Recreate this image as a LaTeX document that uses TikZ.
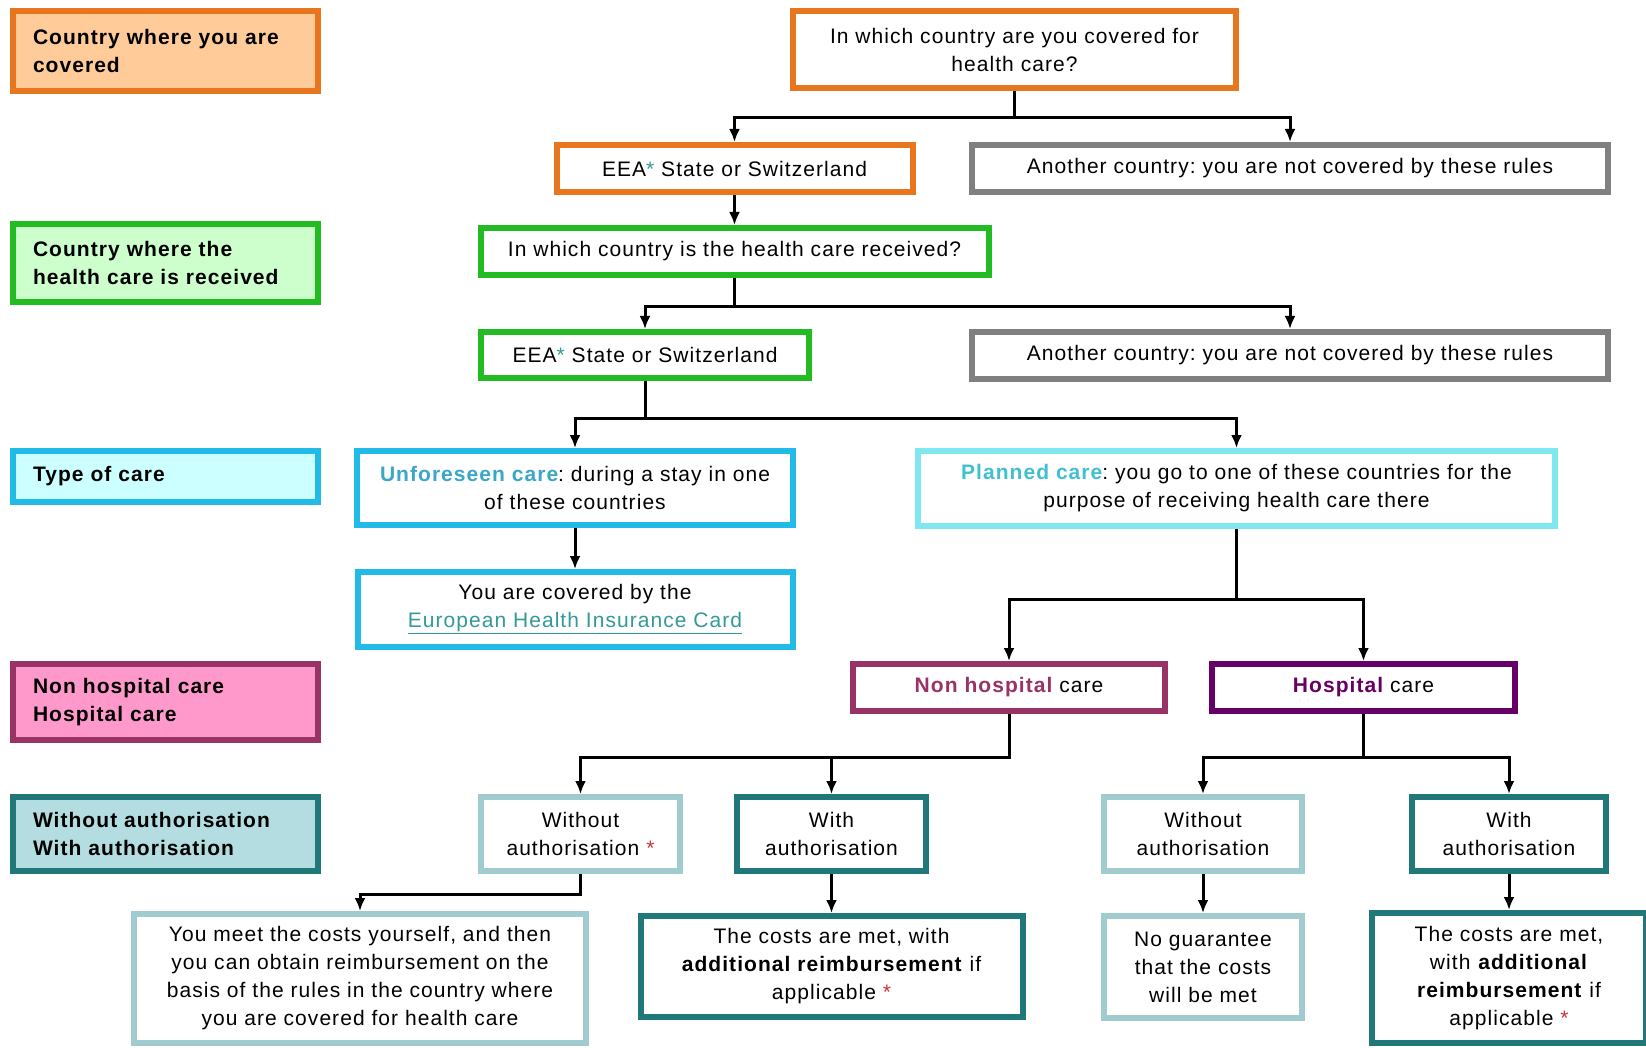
\documentclass[tikz,border=0pt]{standalone}
\usepackage{fontspec}
\setmainfont{Liberation Sans}[LetterSpace=5]
\usepackage{tikz}
\usetikzlibrary{arrows.meta,positioning,calc}
\frenchspacing
\definecolor{cvorange}{HTML}{E8761F}
\definecolor{cvpeach}{HTML}{FFCC99}
\definecolor{cvgreen}{HTML}{22BB22}
\definecolor{cvmint}{HTML}{CCFFCC}
\definecolor{cvcyan}{HTML}{22BBE8}
\definecolor{cvice}{HTML}{CCFFFF}
\definecolor{cvsky}{HTML}{80E6F0}
\definecolor{cvplum}{HTML}{993366}
\definecolor{cvpink}{HTML}{FF99CC}
\definecolor{cvpurple}{HTML}{660066}
\definecolor{cvteal}{HTML}{207878}
\definecolor{cvlteal}{HTML}{A0CCD0}
\definecolor{cvsea}{HTML}{B3DDE0}
\definecolor{cvgrey}{HTML}{808080}
\definecolor{cvlink}{HTML}{339999}
\definecolor{cvstar}{HTML}{CC3333}
\definecolor{cvunf}{HTML}{3AA6C8}
\definecolor{cvplan}{HTML}{40C0D0}

\begin{document}
\begin{tikzpicture}[x=1pt,y=-1pt, font=\fontsize{21}{28}\selectfont,
  box/.style={draw, line width=6pt, fill=white, inner sep=0pt, align=center},
  legend/.style={draw, line width=6pt, inner xsep=20pt, inner ysep=0pt, text width=265pt,
    align=left, minimum width=305pt, font=\fontsize{21}{28}\selectfont\bfseries},
  link/.style={-{Latex[length=13pt,width=11pt]}, line width=3pt}]
  \useasboundingbox (0,0) rectangle (1646,1048);
  % legend column
  \path (165.5,51) node (leg1) [legend, draw=cvorange, fill=cvpeach, minimum height=80pt] {Country where you are\\covered};
  \path (165.5,263) node (leg2) [legend, draw=cvgreen, fill=cvmint, minimum height=78pt] {Country where the\\health care is received};
  \path (165.5,476.5) node (leg3) [legend, draw=cvcyan, fill=cvice, minimum height=51pt] {Type of care};
  \path (165.5,702) node (leg4) [legend, draw=cvplum, fill=cvpink, minimum height=76pt] {Non hospital care\\Hospital care};
  \path (165.5,834) node (leg5) [legend, draw=cvteal, fill=cvsea, minimum height=74pt] {Without authorisation\\With authorisation};
  % country of cover
  \path (1014.5,49.5) node (q1) [box, draw=cvorange, minimum width=443pt, minimum height=77pt] {In which country are you covered for\\health care?};
  \path (734.5,168.5) node (eea1) [box, draw=cvorange, minimum width=356pt, minimum height=47pt] {EEA{\color{cvlink}*} State or Switzerland};
  \path (1290,168.5) node (other1) [box, draw=cvgrey, minimum width=636pt, minimum height=47pt] {Another country: you are not covered by these rules};
  % country of treatment
  \path (734.5,251.5) node (q2) [box, draw=cvgreen, minimum width=508pt, minimum height=47pt] {In which country is the health care received?};
  \path (645,355) node (eea2) [box, draw=cvgreen, minimum width=328pt, minimum height=46pt] {EEA{\color{cvlink}*} State or Switzerland};
  \path (1290,355.5) node (other2) [box, draw=cvgrey, minimum width=636pt, minimum height=47pt] {Another country: you are not covered by these rules};
  % type of care
  \path (575,488) node (unforeseen) [box, draw=cvcyan, minimum width=436pt, minimum height=74pt] {{\bfseries\color{cvunf}Unforeseen care}: during a stay in one\\of these countries};
  \path (1236.5,488.5) node (planned) [box, draw=cvsky, minimum width=637pt, minimum height=75pt] {{\bfseries\color{cvplan}Planned care}: you go to one of these countries for the\\purpose of receiving health care there};
  \path (575,609.5) node (ehic) [box, draw=cvcyan, minimum width=435pt, minimum height=75pt] {You are covered by the\\{\color{cvlink}\underline{European Health Insurance Card}}};
  \path (1009,687.5) node (nonhosp) [box, draw=cvplum, minimum width=312pt, minimum height=47pt] {{\bfseries\color{cvplum}Non hospital} care};
  \path (1363.5,687.5) node (hosp) [box, draw=cvpurple, minimum width=303pt, minimum height=47pt] {{\bfseries\color{cvpurple}Hospital} care};
  % authorisation
  \path (580.5,834) node (nhwithout) [box, draw=cvlteal, minimum width=199pt, minimum height=74pt] {Without\\authorisation {\color{cvstar}*}};
  \path (831.5,834) node (nhwith) [box, draw=cvteal, minimum width=189pt, minimum height=74pt] {With\\authorisation};
  \path (1203,834) node (hwithout) [box, draw=cvlteal, minimum width=198pt, minimum height=74pt] {Without\\authorisation};
  \path (1509,834) node (hwith) [box, draw=cvteal, minimum width=194pt, minimum height=74pt] {With\\authorisation};
  % outcomes
  \path (360,978.5) node (selfpay) [box, draw=cvlteal, minimum width=452pt, minimum height=129pt] {You meet the costs yourself, and then\\you can obtain reimbursement on the\\basis of the rules in the country where\\you are covered for health care};
  \path (831.5,966.5) node (nhmet) [box, draw=cvteal, minimum width=382pt, minimum height=101pt] {The costs are met, with\\\textbf{additional reimbursement} if\\applicable {\color{cvstar}*}};
  \path (1203,967) node (noguar) [box, draw=cvlteal, minimum width=198pt, minimum height=102pt] {No guarantee\\that the costs\\will be met};
  \path (1509,978) node (hmet) [box, draw=cvteal, minimum width=274pt, minimum height=130pt] {The costs are met,\\with \textbf{additional}\\\textbf{reimbursement} if\\applicable {\color{cvstar}*}};
  % connectors
  \draw[link] (q1.south) -- ++(0,27) -| (eea1.north);
  \draw[link] (q1.south) -- ++(0,27) -| (other1.north);
  \draw[link] (eea1.south) -- (q2.north);
  \draw[link] (q2.south) -- ++(0,29) -| (eea2.north);
  \draw[link] (q2.south) -- ++(0,29) -| (other2.north);
  \draw[link] (eea2.south) -- ++(0,37) -| (unforeseen.north);
  \draw[link] (eea2.south) -- ++(0,37) -| (planned.north);
  \draw[link] (unforeseen.south) -- (ehic.north);
  \draw[link] (planned.south) -- ++(0,70) -| (nonhosp.north);
  \draw[link] (planned.south) -- ++(0,70) -| (hosp.north);
  \draw[link] (nonhosp.south) -- ++(0,43) -| (nhwithout.north);
  \draw[link] (nonhosp.south) -- ++(0,43) -| (nhwith.north);
  \draw[link] (hosp.south) -- ++(0,43) -| (hwithout.north);
  \draw[link] (hosp.south) -- ++(0,43) -| (hwith.north);
  \draw[link] (nhwithout.south) -- ++(0,20) -| (selfpay.north);
  \draw[link] (nhwith.south) -- (nhmet.north);
  \draw[link] (hwithout.south) -- (noguar.north);
  \draw[link] (hwith.south) -- (hmet.north);
\end{tikzpicture}
\end{document}
